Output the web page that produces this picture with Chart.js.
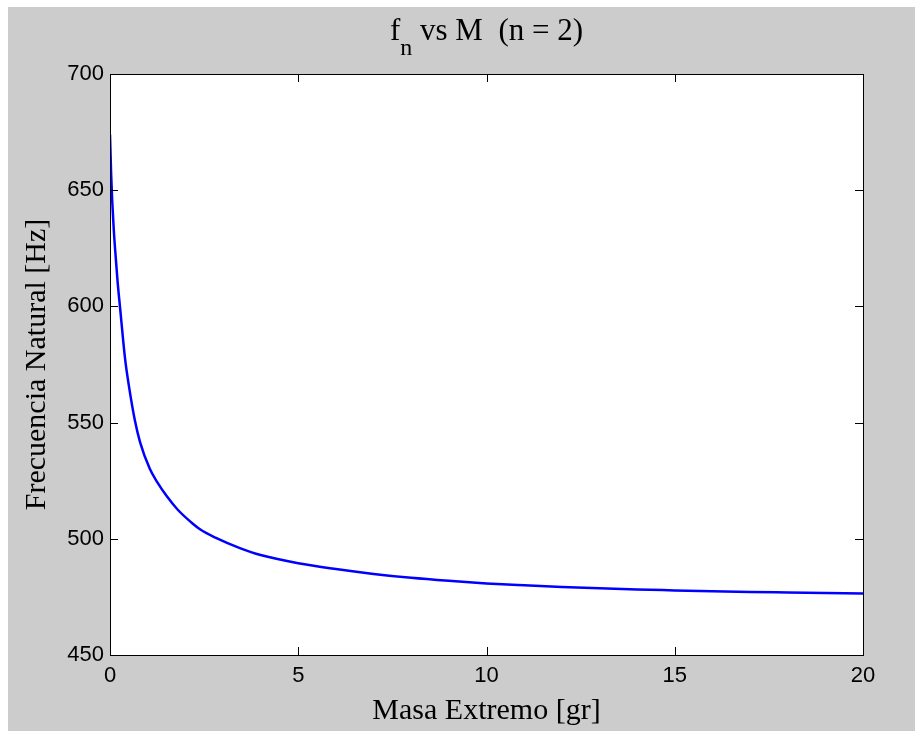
<!DOCTYPE html>
<html>
<head>
<meta charset="utf-8">
<script src="https://cdn.jsdelivr.net/npm/chart.js@4/dist/chart.umd.min.js"></script>
<style>
  html, body { margin: 0; padding: 0; background: #ffffff; }
  #wrap { position: absolute; left: 8px; top: 7px; width: 907px; height: 724px; background: #cccccc; }
</style>
</head>
<body>
<div id="wrap"><canvas id="fnChart"></canvas></div>
<script>
// Masa en el extremo [gr] y frecuencia natural [Hz]
const masa = [0, 0.03, 0.06, 0.1, 0.15, 0.2, 0.27, 0.4, 0.5, 0.66, 0.8, 1.06, 1.25, 1.5, 1.8, 2.2, 2.4, 2.8, 3.45, 4, 5, 6, 7, 8, 9, 10, 11, 12, 13, 14, 15, 16, 17, 18, 19, 20];
const frecuencia = [674, 657, 645, 633, 621.5, 611, 599, 577.5, 566, 551, 541.5, 530, 524.5, 518.5, 512.5, 506.5, 504, 500.5, 496, 493, 489.5, 487, 484.9, 483.2, 481.9, 480.8, 480, 479.3, 478.7, 478.2, 477.8, 477.4, 477.1, 476.9, 476.7, 476.5];
const xTicks = [0, 5, 10, 15, 20];
const yTicks = [450, 500, 550, 600, 650, 700];

document.addEventListener('DOMContentLoaded', function() {
    Chart.defaults.font.family = "'Liberation Sans', Arial, sans-serif";
    Chart.defaults.color = '#000000';

    const puntos = masa.map((m, i) => ({ x: m, y: frecuencia[i] }));

    // Fondo blanco de los ejes
    const fondoEjes = {
        id: 'fondoEjes',
        beforeDraw(chart) {
            const { ctx, chartArea: a } = chart;
            ctx.save();
            ctx.fillStyle = '#ffffff';
            ctx.fillRect(a.left, a.top, a.right - a.left, a.bottom - a.top);
            ctx.restore();
        }
    };

    // Caja estilo MATLAB con marcas hacia adentro y título con subíndice
    const cajaMatlab = {
        id: 'cajaMatlab',
        afterDraw(chart) {
            const { ctx, chartArea: a, scales } = chart;
            ctx.save();
            ctx.strokeStyle = '#000000';
            ctx.lineWidth = 1;
            ctx.strokeRect(a.left + 0.5, a.top + 0.5, a.right - a.left, a.bottom - a.top);
            const len = 8;
            ctx.beginPath();
            xTicks.forEach(v => {
                const px = Math.round(scales.x.getPixelForValue(v)) + 0.5;
                ctx.moveTo(px, a.bottom); ctx.lineTo(px, a.bottom - len);
                ctx.moveTo(px, a.top); ctx.lineTo(px, a.top + len);
            });
            yTicks.forEach(v => {
                const py = Math.round(scales.y.getPixelForValue(v)) + 0.5;
                ctx.moveTo(a.left, py); ctx.lineTo(a.left + len, py);
                ctx.moveTo(a.right, py); ctx.lineTo(a.right - len, py);
            });
            ctx.stroke();

            // título: f_n vs M  (n = 2)
            const fMain = "31px 'Liberation Serif', 'Times New Roman', serif";
            const fSub = "24px 'Liberation Serif', 'Times New Roman', serif";
            ctx.fillStyle = '#000000';
            ctx.textBaseline = 'alphabetic';
            ctx.font = fMain;
            const wF = ctx.measureText('f').width;
            const resto = ' vs M  (n = 2)';
            const wR = ctx.measureText(resto).width;
            ctx.font = fSub;
            const wN = ctx.measureText('n').width;
            const total = wF + wN + wR;
            let x0 = (a.left + a.right) / 2 - total / 2;
            const base = 33;
            ctx.font = fMain;
            ctx.fillText('f', x0, base);
            ctx.font = fSub;
            ctx.fillText('n', x0 + wF, base + 15);
            ctx.font = fMain;
            ctx.fillText(resto, x0 + wF + wN, base);
            ctx.restore();
        }
    };

    const ctx = document.getElementById('fnChart').getContext('2d');
    new Chart(ctx, {
        type: 'scatter',
        data: {
            datasets: [{
                label: 'fn',
                data: puntos,
                showLine: true,
                borderColor: '#0000ff',
                borderWidth: 2.5,
                pointRadius: 0,
                cubicInterpolationMode: 'monotone',
                fill: false
            }]
        },
        options: {
            responsive: true,
            maintainAspectRatio: false,
            animation: false,
            layout: {
                padding: { top: 67, right: 52, left: 0, bottom: 0 }
            },
            plugins: {
                legend: { display: false },
                tooltip: { enabled: false },
                title: { display: false }
            },
            scales: {
                x: {
                    type: 'linear',
                    min: 0,
                    max: 20,
                    afterBuildTicks: s => { s.ticks = xTicks.map(v => ({ value: v })); },
                    afterFit: s => { s.height = 76; },
                    grid: { display: false, drawTicks: false },
                    border: { display: false },
                    ticks: {
                        font: { size: 22 },
                        color: '#000000',
                        padding: 8,
                        maxRotation: 0
                    },
                    title: {
                        display: true,
                        text: 'Masa Extremo [gr]',
                        color: '#000000',
                        font: { family: "'Liberation Serif', 'Times New Roman', serif", size: 30 },
                        padding: { top: 0, bottom: 2 }
                    }
                },
                y: {
                    type: 'linear',
                    min: 450,
                    max: 700,
                    afterBuildTicks: s => { s.ticks = yTicks.map(v => ({ value: v })); },
                    afterFit: s => { s.width = 102; },
                    grid: { display: false, drawTicks: false },
                    border: { display: false },
                    ticks: {
                        font: { size: 22 },
                        color: '#000000',
                        padding: 6
                    },
                    title: {
                        display: true,
                        text: 'Frecuencia Natural [Hz]',
                        color: '#000000',
                        font: { family: "'Liberation Serif', 'Times New Roman', serif", size: 30 },
                        padding: { top: 11, bottom: 0 }
                    }
                }
            }
        },
        plugins: [fondoEjes, cajaMatlab]
    });
});
</script>
</body>
</html>
